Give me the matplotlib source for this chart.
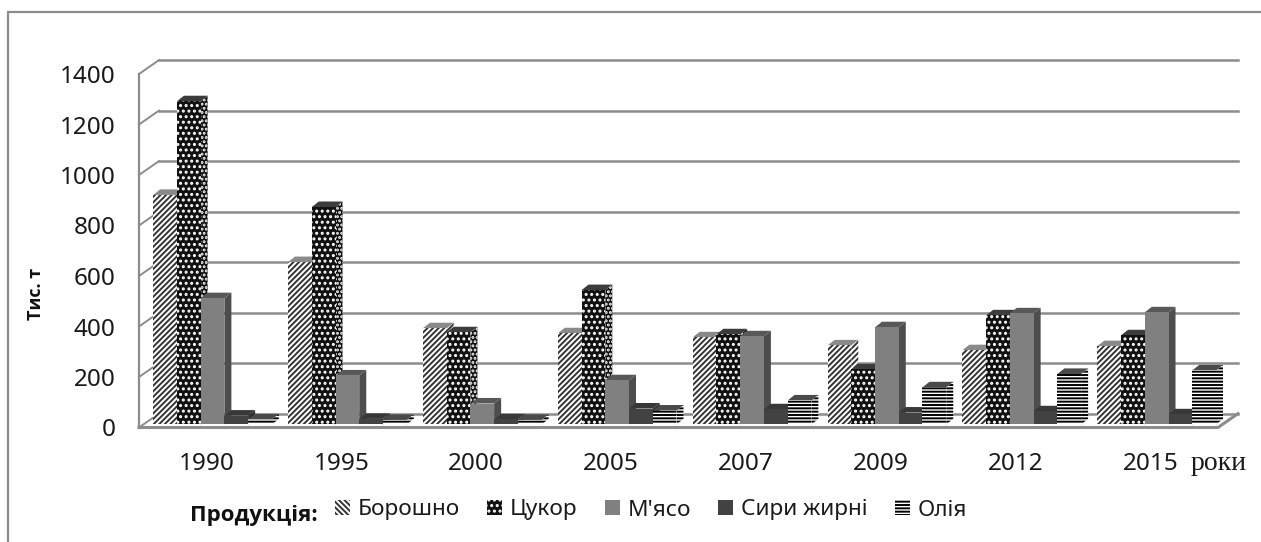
import matplotlib
matplotlib.use('Agg')
import matplotlib.pyplot as plt
import numpy as np
from matplotlib.patches import Patch, Rectangle

plt.rcParams['font.family'] = ['Noto Sans', 'DejaVu Sans']
plt.rcParams['hatch.linewidth'] = 1.4

years = ['1990', '1995', '2000', '2005', '2007', '2009', '2012', '2015']
boroshno = [909, 643, 381, 361, 345, 313, 294, 310]
tsukor = [1280, 861, 365, 532, 357, 218, 432, 353]
myaso = [500, 194, 83, 175, 349, 385, 440, 444]
syry = [35, 22, 20, 63, 60, 47, 52, 40]
oliya = [20, 18, 18, 55, 95, 147, 200, 214]
names = ['Борошно', 'Цукор', "М'ясо", 'Сири жирні', 'Олія']
series = [boroshno, tsukor, myaso, syry, oliya]

# front, edge, hatch, side, side hatch, top, legend hatch
styles = [
    ('white', '#333333', '//////', 'white', '//////', '#8a8a8a', '\\\\\\\\\\\\'),
    ('#111111', 'white', '...', '#111111', '....', '#3c3c3c', '...'),
    ('#808080', '#808080', '', '#4d4d4d', '', '#585858', ''),
    ('#424242', '#424242', '', '#2e2e2e', '', '#383838', ''),
    ('white', 'black', '-----', 'white', '-----', '#4a4a4a', '-----'),
]

W, H = 1261, 542
fig = plt.figure(figsize=(W / 100, H / 100), dpi=100)
fig.add_artist(Rectangle((8 / W, -0.01), 1.2, 1 - 12 / H + 0.01, transform=fig.transFigure,
                         fc='white', ec='#8c8c8c', lw=1.6, zorder=-1))

# axes cover the front plane of the fake 3d box
ax = fig.add_axes([139 / W, 1 - 427.5 / H, 1079 / W, 353.5 / H])
ax.set_xlim(0, 8)
ax.set_ylim(0, 1400)
ax.patch.set_visible(False)
for s in ['top', 'right', 'bottom']:
    ax.spines[s].set_visible(False)
ax.spines['left'].set_color('#8c8c8c')
ax.spines['left'].set_linewidth(1.6)
ax.spines['left'].set_zorder(1)

wall_x, wall_y = 0.148, 55
grid_col = '#8c8c8c'
for v in np.arange(0, 1401, 200):
    ax.plot([wall_x, 8 + wall_x], [v + wall_y, v + wall_y], color=grid_col, lw=1.8, zorder=1, clip_on=False)
    ax.plot([0, wall_x], [v, v + wall_y], color=grid_col, lw=1.4, zorder=1, clip_on=False)
# floor front edge and right edge
ax.plot([0, 8, 8 + wall_x], [0, 0, wall_y], color=grid_col, lw=2.2, zorder=1, clip_on=False)

bar_w = 0.176
start = 0.105
base = 12
dep_x, dep_y = 0.052, 22
z = 2
for i in range(len(years)):
    for k, vals in enumerate(series):
        front, edge, hatch, side, side_hatch, top, _ = styles[k]
        x0 = i + start + k * bar_w
        v = vals[i]
        ax.bar(x0, v, bar_w, bottom=base, align='edge', color=front, edgecolor=edge,
               hatch=hatch, lw=0, zorder=z + 1, clip_on=False)
        ax.fill([x0 + bar_w, x0 + bar_w + dep_x, x0 + bar_w + dep_x, x0 + bar_w],
                [base, base + dep_y, base + v + dep_y, base + v],
                facecolor=side, edgecolor=edge, hatch=side_hatch, lw=0, zorder=z, clip_on=False)
        ax.fill([x0, x0 + dep_x, x0 + bar_w + dep_x, x0 + bar_w],
                [base + v, base + v + dep_y, base + v + dep_y, base + v],
                color=top, lw=0, zorder=z, clip_on=False)
        z += 2

ax.set_yticks(np.arange(0, 1401, 200))
ax.tick_params(axis='y', labelsize=17.5, length=0, pad=17, labelcolor='#1a1a1a')
ax.set_xticks(np.arange(8) + 0.5)
ax.set_xticklabels(years)
ax.tick_params(axis='x', labelsize=17.5, length=0, pad=17.5, labelcolor='#1a1a1a')

fig.text(36 / W, 1 - 294 / H, 'Тис. т', family='Open Sans', fontsize=13, fontweight='bold',
         rotation=90, ha='center', va='center', color='#111111')
fig.text(1219 / W, 1 - 463 / H, 'роки', family='Liberation Serif', fontsize=20, ha='center', va='center', color='#1a1a1a')
fig.text(190 / W, 1 - 515 / H, 'Продукція:', fontsize=16, family='Open Sans', fontweight='bold', ha='left', va='center', color='#111111')

handles = [Patch(facecolor=st[0], edgecolor=st[1], hatch=st[6], lw=0) for st in styles]
ax.legend(handles, names, ncol=5, frameon=False, fontsize=16.3, handlelength=0.66, handleheight=0.66,
          handletextpad=0.35, columnspacing=1.2, loc='center left',
          bbox_to_anchor=(335 / W, 1 - 510 / H), bbox_transform=fig.transFigure,
          borderpad=0, borderaxespad=0, labelcolor='#1a1a1a')

fig.savefig('out.png', dpi=100)
